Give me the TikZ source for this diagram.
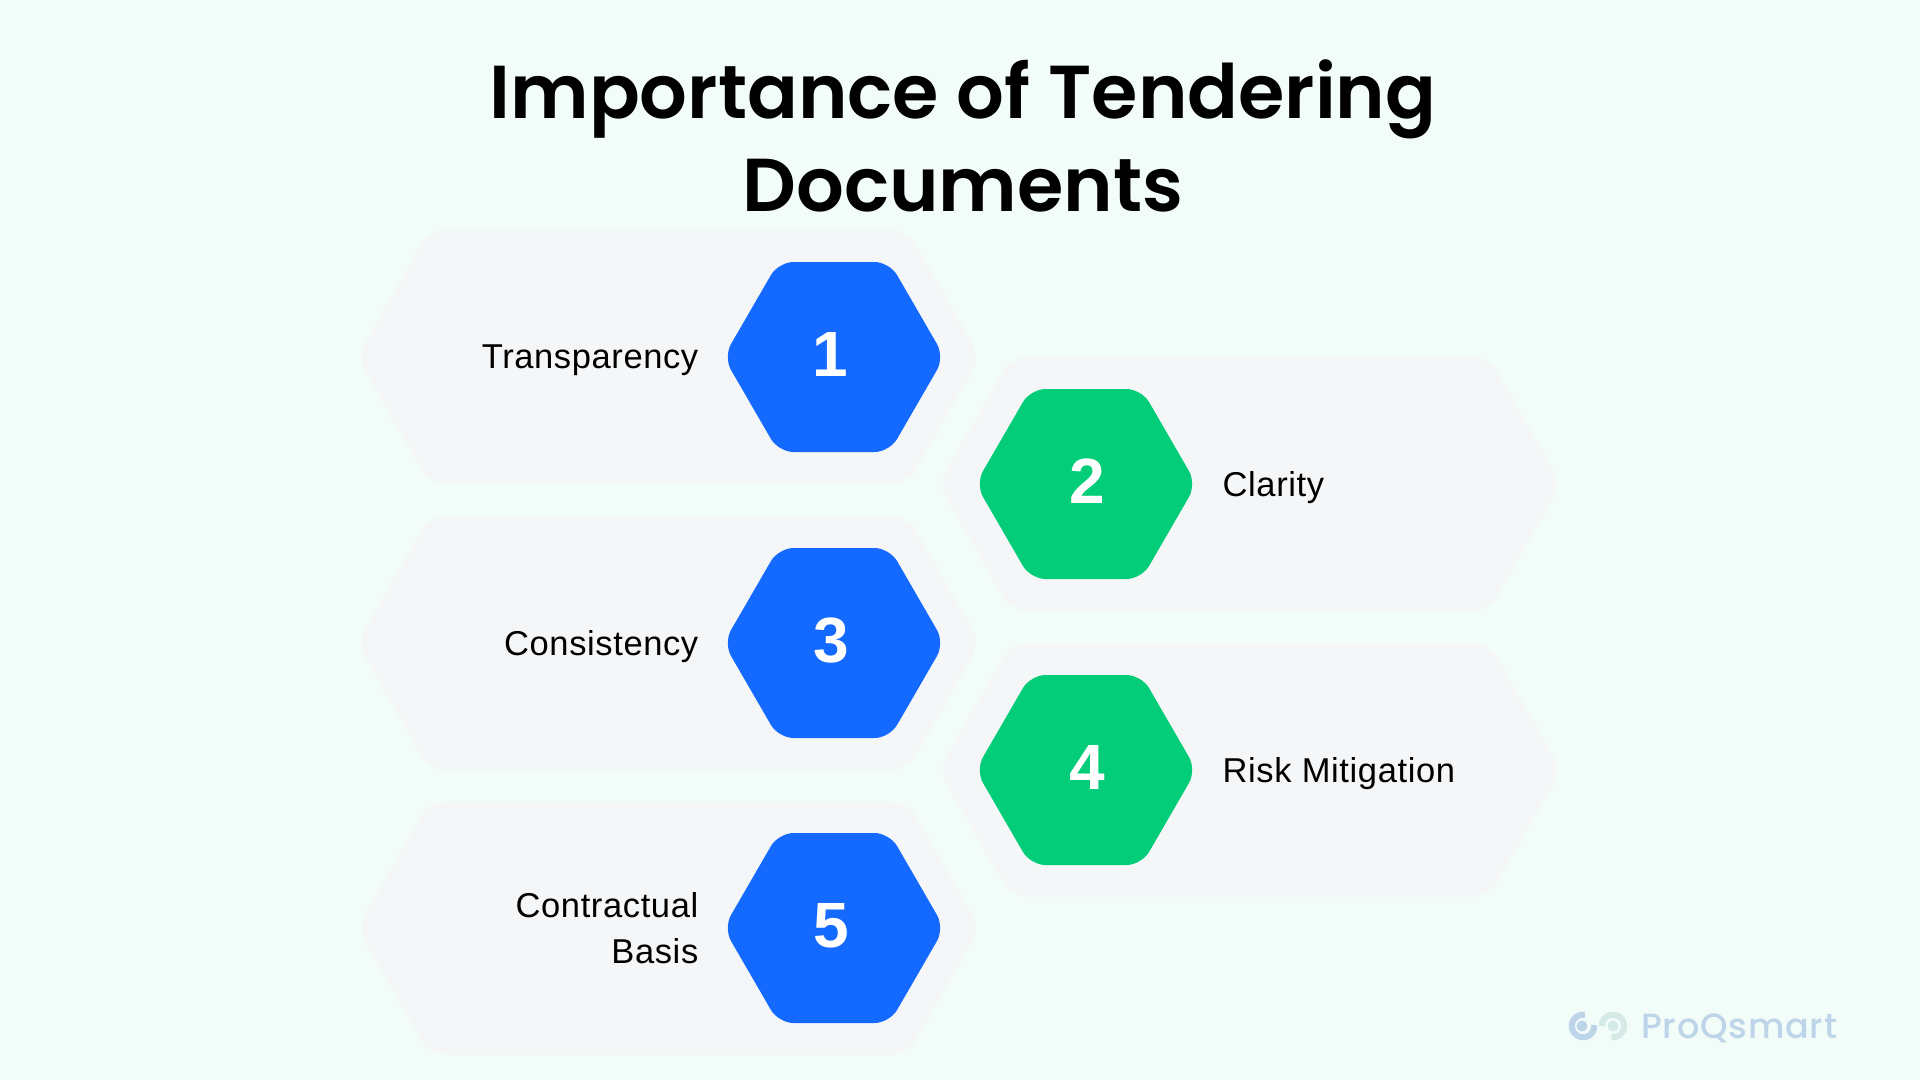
\documentclass[tikz,border=0pt]{standalone}
\usepackage{fontspec}
\setmainfont{Liberation Sans}
\newfontfamily\titlefont{Poppins SemiBold}
\newfontfamily\markfont[LetterSpace=2.3]{Poppins Medium}
\newfontfamily\labelfont[LetterSpace=1.8]{Liberation Sans}
\definecolor{pagebg}{HTML}{F2FDF9}
\definecolor{tilegray}{HTML}{F4F6F8}
\definecolor{hexblue}{HTML}{1469FF}
\definecolor{hexgreen}{HTML}{03CD78}
\definecolor{markblue}{HTML}{BDD4E9}
\definecolor{markpale}{HTML}{D5E9E7}
\tikzset{
  tile/.pic={\fill[tilegray,rounded corners=15pt] (0,-126.5) -- (239,-126.5) -- (311.5,0) -- (239,126.5) -- (-239,126.5) -- (-311.5,0) -- (-239,-126.5) -- cycle;},
  badge/.pic={\fill[rounded corners=15pt,pic actions] (0,-95) -- (55.5,-95) -- (110.5,0) -- (55.5,95) -- (-55.5,95) -- (-110.5,0) -- (-55.5,-95) -- cycle;},
  numlabel/.style={font=\fontsize{64}{64}\selectfont\bfseries,text=white,inner sep=0pt},
  leftlabel/.style={font=\fontsize{34.5}{46}\selectfont\labelfont,anchor=east,align=right,inner sep=0pt},
  rightlabel/.style={font=\fontsize{34.5}{46}\selectfont\labelfont,anchor=west,align=left,inner sep=0pt}
}
\begin{document}
\begin{tikzpicture}[x=1pt,y=-1pt]
% Background
\fill[pagebg] (0,0) rectangle (1920,1080);
\useasboundingbox (0,0) rectangle (1920,1080);

% Title
\node[font=\fontsize{75}{93}\selectfont\titlefont,align=center,inner sep=0pt] (title) at (963,135.5) {Importance of Tendering\\Documents};

% Gray tiles
\pic at (668.5,357) {tile};
\pic at (1250,484) {tile};
\pic at (668.5,643) {tile};
\pic at (1250,770) {tile};
\pic at (668.5,928) {tile};

% Numbered hexagons
\pic[hexblue] at (834,357) {badge};
\pic[hexgreen] at (1086,484) {badge};
\pic[hexblue] at (834,643) {badge};
\pic[hexgreen] at (1086,770) {badge};
\pic[hexblue] at (834,928) {badge};

\node[numlabel] (num1) at (830.5,354.5) {1};
\node[numlabel] (num2) at (1087,481.5) {2};
\node[numlabel] (num3) at (831,640.5) {3};
\node[numlabel] (num4) at (1087,767.5) {4};
\node[numlabel] (num5) at (831,925.5) {5};

% Labels
\node[leftlabel] (transparency) at (698.5,360.5) {Transparency};
\node[rightlabel] (clarity) at (1222.5,487.5) {Clarity};
\node[leftlabel] (consistency) at (698.5,646.5) {Consistency};
\node[rightlabel] (risk) at (1222.5,773.5) {Risk Mitigation};
\node[leftlabel] (basis) at (698.5,928) {Contractual\\Basis};

% Watermark
\draw[markblue,line width=6pt] ([shift={(1583,1026)}]-80:11.3) arc (-80:-365:11.3);
\fill[markblue] (1582,1026) circle (5.5);
\draw[markpale,line width=6pt] ([shift={(1613,1026)}]-262:11.3) arc (-262:-540:11.3);
\fill[markpale] (1613,1026) circle (5.5);
\node[font=\fontsize{35}{35}\selectfont\markfont,text=markblue,anchor=base west,inner sep=0pt] (brand) at (1641,1038) {ProQsmart};
\end{tikzpicture}
\end{document}
